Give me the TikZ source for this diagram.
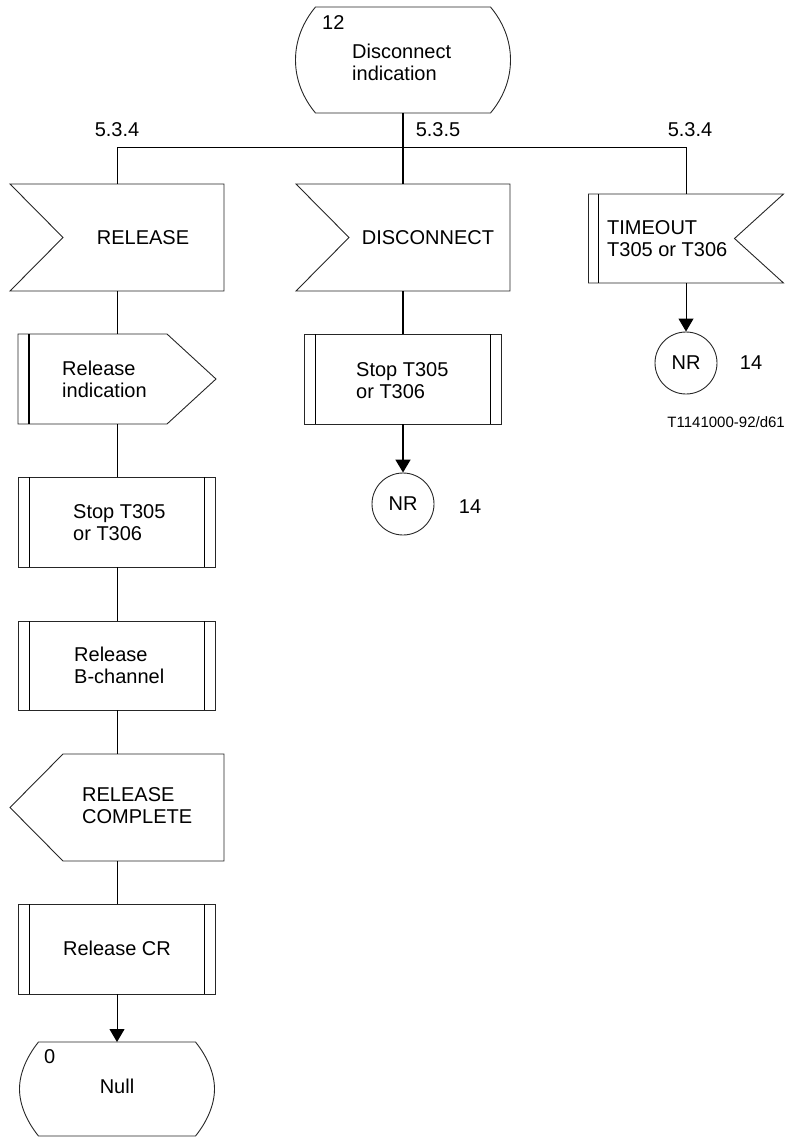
\documentclass[tikz,border=0pt]{standalone}
\usepackage{fontspec}
\setmainfont{Liberation Sans}
\usetikzlibrary{arrows.meta}
\tikzset{
  frame/.style={draw=none,inner sep=0pt,outer sep=0pt,rectangle},
  outline/.style={draw=black!85,line width=0.9pt},
  bar/.style={line width=1.9pt},
  flow/.style={line width=1pt},
  flowc/.style={line width=1.7pt},
  arr/.style={-{Triangle[length=13pt,width=15pt]}},
  txt/.style={font=\fontsize{20}{22}\selectfont,inner sep=0pt,align=left},
  conn/.style={circle,draw=black!85,line width=0.9pt,minimum size=62pt,inner sep=0pt,font=\fontsize{20}{22}\selectfont},
}
\begin{document}
\begin{tikzpicture}[x=1pt,y=-1pt]
\useasboundingbox (0,0) rectangle (786,1137);

% ---- frames (named nodes) ----
\node[frame,minimum width=215pt,minimum height=106pt] (st12) at (403,60) {};
\node[frame,minimum width=214pt,minimum height=107pt] (rel) at (117,237.5) {};
\node[frame,minimum width=214pt,minimum height=107pt] (disc) at (403,237.5) {};
\node[frame,minimum width=195pt,minimum height=89pt] (tmo) at (686,238.5) {};
\node[frame,minimum width=198pt,minimum height=90pt] (relind) at (117,379) {};
\node[frame,minimum width=197pt,minimum height=90pt] (stopA) at (117,522) {};
\node[frame,minimum width=197pt,minimum height=90pt] (stopB) at (403,379) {};
\node[frame,minimum width=197pt,minimum height=89pt] (relB) at (117,665.5) {};
\node[frame,minimum width=214pt,minimum height=107pt] (relc) at (117,807.5) {};
\node[frame,minimum width=197pt,minimum height=90pt] (relcr) at (117,949) {};
\node[frame,minimum width=195pt,minimum height=94pt] (null) at (117,1089) {};

% ---- state 12 ----
\draw[outline] (315.5,7) -- (490.5,7)
  .. controls (503,22) and (510.5,40) .. (510.5,60)
  .. controls (510.5,80) and (503,98) .. (490.5,113)
  -- (315.5,113)
  .. controls (303,98) and (295.5,80) .. (295.5,60)
  .. controls (295.5,40) and (303,22) .. (315.5,7) -- cycle;
\node[txt,anchor=west] (n12) at (322,23) {12};
\node[txt,anchor=west] (st12t) at (352,62) {Disconnect\\indication};

% ---- RELEASE input ----
\draw[outline] (10,184) -- (224,184) -- (224,291) -- (10,291) -- (63,237.5) -- cycle;
\node[txt] (relt) at (143,238) {RELEASE};

% ---- DISCONNECT input ----
\draw[outline] (296,184) -- (510,184) -- (510,291) -- (296,291) -- (349,237.5) -- cycle;
\node[txt] (disct) at (428,238) {DISCONNECT};

% ---- TIMEOUT ----
\draw[outline] (588.5,194) -- (783.5,194) -- (734.5,238.5) -- (783.5,283) -- (588.5,283) -- cycle;
\draw[bar] (598.5,194) -- (598.5,283);
\node[txt,anchor=west] (tmot) at (607,239) {TIMEOUT\\T305 or T306};

% ---- Release indication (output) ----
\draw[outline] (18,334) -- (167,334) -- (216,379) -- (167,424) -- (18,424) -- cycle;
\draw[bar] (29,334) -- (29,424);
\node[txt,anchor=west] (relindt) at (62,379) {Release\\indication};

% ---- Stop T305 (left) ----
\draw[outline] (18.5,477) rectangle (215.5,567);
\draw[bar] (29.5,477) -- (29.5,567);
\draw[bar] (204.5,477) -- (204.5,567);
\node[txt,anchor=west] (stopAt) at (73,523) {Stop T305\\or T306};

% ---- Stop T305 (centre) ----
\draw[outline] (304.5,334) rectangle (501.5,424);
\draw[bar] (315.5,334) -- (315.5,424);
\draw[bar] (490.5,334) -- (490.5,424);
\node[txt,anchor=west] (stopBt) at (356,381) {Stop T305\\or T306};

% ---- Release B-channel ----
\draw[outline] (18.5,621) rectangle (215.5,710);
\draw[bar] (29.5,621) -- (29.5,710);
\draw[bar] (204.5,621) -- (204.5,710);
\node[txt,anchor=west] (relBt) at (74,665) {Release\\B-channel};

% ---- RELEASE COMPLETE (output) ----
\draw[outline] (63,754) -- (224,754) -- (224,861) -- (63,861) -- (10,807.5) -- cycle;
\node[txt,anchor=west] (relct) at (82,806) {RELEASE\\COMPLETE};

% ---- Release CR ----
\draw[outline] (18.5,904) rectangle (215.5,994);
\draw[bar] (29.5,904) -- (29.5,994);
\draw[bar] (204.5,904) -- (204.5,994);
\node[txt] (relcrt) at (117,948) {Release CR};

% ---- Null state ----
\draw[outline] (38.5,1042) -- (195.5,1042)
  .. controls (206,1055) and (214.5,1072) .. (214.5,1089)
  .. controls (214.5,1106) and (206,1123) .. (195.5,1136)
  -- (38.5,1136)
  .. controls (28,1123) and (19.5,1106) .. (19.5,1089)
  .. controls (19.5,1072) and (28,1055) .. (38.5,1042) -- cycle;
\node[txt,anchor=west] (n0) at (44,1057) {0};
\node[txt] (nullt) at (117,1086) {Null};

% ---- connectors ----
\node[conn] (nr1) at (403,504) {NR};
\node[conn] (nr2) at (686,363) {NR};
\node[txt] (n14a) at (470,507) {14};
\node[txt] (n14b) at (751,363) {14};

\coordinate (busL) at (117,147);
\coordinate (busC) at (403,147);
\coordinate (busR) at (686,147);

\draw[flowc] (st12.south) -- (busC);
\draw[flow] (busL) -- (busR);
\draw[flow] (busL) -- (rel.north);
\draw[flowc] (busC) -- (disc.north);
\draw[flow] (busR) -- (tmo.north);

\draw[flow] (rel.south) -- (relind.north);
\draw[flow] (relind.south) -- (stopA.north);
\draw[flow] (stopA.south) -- (relB.north);
\draw[flow] (relB.south) -- (relc.north);
\draw[flow] (relc.south) -- (relcr.north);
\draw[flow,arr] (relcr.south) -- (null.north);

\draw[flowc] (disc.south) -- (stopB.north);
\draw[flowc,arr] (stopB.south) -- (nr1.north);
\draw[flow,arr] (tmo.south) -- (nr2.north);

% ---- labels ----
\node[txt] (l1) at (117,130) {5.3.4};
\node[txt] (l2) at (438,130) {5.3.5};
\node[txt] (l3) at (690,130) {5.3.4};
\node[txt,anchor=east] (ref) at (785,422) {\fontsize{15}{18}\selectfont T1141000-92/d61};
\end{tikzpicture}
\end{document}
